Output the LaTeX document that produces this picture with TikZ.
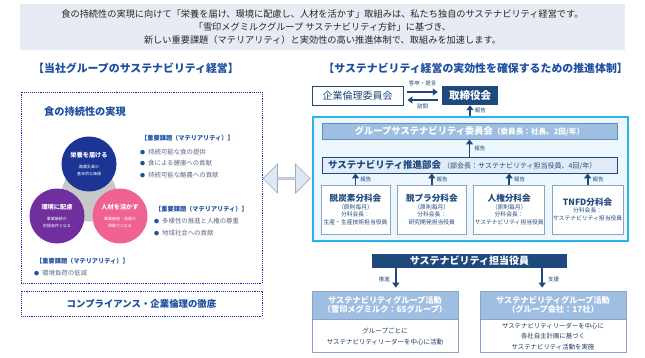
\documentclass[tikz,border=0pt]{standalone}
\usepackage{fontspec}
\setmainfont{Noto Sans CJK JP}
\usepackage{xcolor}
\usepackage{tikz}
\usetikzlibrary{shapes.arrows, arrows.meta, positioning, calc}
\definecolor{headblue}{RGB}{30, 80, 160}
\definecolor{navy}{RGB}{31, 73, 125}
\definecolor{bannerbg}{RGB}{231, 236, 244}
\definecolor{dotblue}{RGB}{20, 40, 170}
\definecolor{circblue}{RGB}{28, 52, 148}
\definecolor{circpurple}{RGB}{112, 46, 158}
\definecolor{circpink}{RGB}{240, 98, 148}
\definecolor{circgray}{RGB}{200, 200, 200}
\definecolor{itemgray}{RGB}{90, 105, 130}
\definecolor{framecyan}{RGB}{40, 180, 235}
\definecolor{framebg}{RGB}{236, 248, 254}
\definecolor{midblue}{RGB}{158, 190, 226}
\definecolor{midborder}{RGB}{100, 140, 195}
\definecolor{paleblue}{RGB}{226, 236, 248}
\definecolor{boxborder}{RGB}{140, 162, 198}
\definecolor{arrowfill}{RGB}{222, 232, 243}
\definecolor{arrowedge}{RGB}{160, 170, 190}
\newcommand{\matbullet}{{\color{headblue}\fontsize{5}{5}\selectfont ●}\hspace{3pt}}
\newcommand{\circsub}{\mdseries\fontsize{4}{7}\selectfont}
\tikzset{
  font=\fontsize{7}{9}\selectfont,
  bannerbox/.style={
    rectangle, fill=bannerbg, minimum width=605, minimum height=46,
    align=center, text=black!85, font=\fontsize{9.2}{13}\selectfont
  },
  sectiontitle/.style={
    inner sep=0pt, text=headblue, font=\bfseries\fontsize{10.9}{12}\selectfont
  },
  dotbox/.style={
    rectangle, draw=dotblue, densely dotted, line width=0.9pt
  },
  valuecircle/.style={
    circle, minimum size=55, inner sep=0pt, align=center, text=white,
    font=\bfseries\fontsize{6.2}{7}\selectfont
  },
  matheading/.style={
    anchor=west, inner sep=0pt, text=headblue, font=\bfseries\fontsize{6.2}{7}\selectfont
  },
  matitem/.style={
    anchor=west, inner sep=0pt, text=itemgray, font=\fontsize{6.4}{7}\selectfont
  },
  ethicsbox/.style={
    rectangle, draw=navy, fill=white, line width=0.9pt, text=navy,
    font=\fontsize{10}{11}\selectfont
  },
  boardbox/.style={
    rectangle, fill=navy, text=white, font=\bfseries\fontsize{10.5}{11}\selectfont
  },
  promoframe/.style={
    rectangle, draw=framecyan, fill=framebg, line width=1.1pt
  },
  committeebox/.style={
    rectangle, draw=midborder, fill=midblue, line width=0.8pt, text=white,
    font=\bfseries\fontsize{9.3}{10}\selectfont
  },
  councilbox/.style={
    rectangle, draw=navy, fill=paleblue, line width=0.8pt, text=navy,
    align=left, font=\fontsize{7}{8}\selectfont
  },
  subbox/.style={
    rectangle, draw=boxborder, fill=white, line width=0.8pt, text=navy,
    minimum width=69, minimum height=49, inner sep=1pt, align=center,
    font=\fontsize{5.8}{7.6}\selectfont
  },
  officerbox/.style={
    rectangle, fill=navy, text=white, minimum width=195, minimum height=14,
    inner sep=0pt, font=\bfseries\fontsize{10}{11}\selectfont
  },
  acthead/.style={
    rectangle, draw=boxborder, fill=midblue, line width=0.8pt, text=white,
    minimum width=146, minimum height=28, inner sep=0pt, align=center,
    font=\bfseries\fontsize{8.2}{9.5}\selectfont
  },
  actbody/.style={
    rectangle, draw=boxborder, fill=white, line width=0.8pt, text=navy!80!black,
    minimum width=146, minimum height=33, inner sep=0pt, align=center,
    font=\fontsize{6.5}{10.5}\selectfont
  },
  flowline/.style={
    draw=navy, line width=1.8pt, -{Triangle[length=5pt, width=7pt]}
  },
  flowtag/.style={
    inner sep=1pt, text=navy, font=\fontsize{5.5}{6}\selectfont
  }
}

\begin{document}
\begin{tikzpicture}[x=1pt, y=-1pt]
  \useasboundingbox (0,0) rectangle (645,357);

  % Message banner
  \node[bannerbox] (banner) at (322.5,27) {食の持続性の実現に向けて「栄養を届け、環境に配慮し、人材を活かす」取組みは、私たち独自のサステナビリティ経営です。\\「雪印メグミルクグループ サステナビリティ方針」に基づき、\\新しい重要課題（マテリアリティ）と実効性の高い推進体制で、取組みを加速します。};

  % Left: group sustainability management
  \node[sectiontitle, anchor=west] (lefttitle) at (33,68) {【当社グループのサステナビリティ経営】};
  \node[dotbox, minimum width=241, minimum height=191] (foodbox) at (141.5,187.5) {};
  \node[sectiontitle, anchor=west, font=\bfseries\fontsize{10.2}{11}\selectfont] (foodtitle) at (44,112) {食の持続性の実現};

  \node[valuecircle, fill=circgray] (hub) at (89,194) {};
  \node[valuecircle, fill=circblue] (nutrition) at (89,164) {栄養を届ける\\[4pt]\circsub 酪農乳業の\\\circsub 基本的な価値};
  \node[valuecircle, fill=circpurple] (environment) at (57,216) {環境に配慮\\[4pt]\circsub 事業継続の\\\circsub 前提条件となる};
  \node[valuecircle, fill=circpink] (people) at (120,216) {人材を活かす\\[4pt]\circsub 事業継続・発展の\\\circsub 原動力となる};

  % Materiality lists
  \node[matheading] (mat1) at (141,138) {【重要課題（マテリアリティ）】};
  \node[matitem] (mat1a) at (140,152) {\matbullet 持続可能な食の提供};
  \node[matitem] (mat1b) at (140,163.5) {\matbullet 食による健康への貢献};
  \node[matitem] (mat1c) at (140,175) {\matbullet 持続可能な酪農への貢献};

  \node[matheading] (mat2) at (155,209) {【重要課題（マテリアリティ）】};
  \node[matitem] (mat2a) at (154,221) {\matbullet 多様性の推進と人権の尊重};
  \node[matitem] (mat2b) at (154,233) {\matbullet 地域社会への貢献};

  \node[matheading] (mat3) at (36,261) {【重要課題（マテリアリティ）】};
  \node[matitem] (mat3a) at (34,273) {\matbullet 環境負荷の低減};

  \node[dotbox, minimum width=241, minimum height=25, text=headblue,
    font=\bfseries\fontsize{9.4}{10}\selectfont] (compliance) at (141.5,303.5) {コンプライアンス・企業倫理の徹底};

  % Link between both halves
  \node[double arrow, fill=arrowfill, draw=arrowedge, line width=0.7pt,
    minimum height=47, minimum width=29, double arrow head extend=6.5pt,
    inner sep=0pt] (link) at (286.5,178.5) {};

  % Right: promotion structure
  \node[sectiontitle, anchor=east] (righttitle) at (628,68) {【サステナビリティ経営の実効性を確保するための推進体制】};
  \node[ethicsbox, minimum width=91, minimum height=19] (ethics) at (357.5,95.5) {企業倫理委員会};
  \node[boardbox, minimum width=56, minimum height=19] (board) at (470,95.5) {取締役会};
  \draw[flowline, shorten <=4pt, shorten >=4pt] ([yshift=3.5pt]ethics.east) -- ([yshift=3.5pt]ethics.east -| board.west)
    node[midway, above=4pt, flowtag] {答申・提言};
  \draw[flowline, shorten <=4pt, shorten >=4pt] ([yshift=-4.5pt]board.west) -- ([yshift=-4.5pt]board.west -| ethics.east)
    node[midway, below=2pt, flowtag] {諮問};

  \node[promoframe, minimum width=315, minimum height=124] (frame) at (470.5,179) {};
  \draw[flowline] (frame.north -| board.south) -- (board.south) node[midway, right=3pt, flowtag] {報告};

  \node[committeebox, minimum width=295, minimum height=16, inner sep=0pt] (committee) at (469.5,131)
    {グループサステナビリティ委員会\fontsize{7.6}{8}\selectfont（委員長：社長、2回/年）};
  \node[councilbox, text width=283, inner xsep=6pt, inner ysep=0pt, minimum height=16] (council) at (469.5,165)
    {\textbf{\fontsize{9.5}{10}\selectfont サステナビリティ推進部会}\hspace{2pt}（部会長：サステナビリティ担当役員、4回/年）};
  \draw[flowline] (council.north) -- (committee.south) node[midway, right=3pt, flowtag] {報告};

  \node[subbox] (decarb) at (355.5,209.5) {\textbf{\fontsize{8.6}{9}\selectfont 脱炭素分科会}\\（原則毎月）\\分科会長：\\生産・生産技術担当役員};
  \node[subbox, right=6.5pt of decarb] (plastic) {\textbf{\fontsize{8.6}{9}\selectfont 脱プラ分科会}\\（原則毎月）\\分科会長：\\研究開発担当役員};
  \node[subbox, right=6.5pt of plastic] (rights) {\textbf{\fontsize{8.6}{9}\selectfont 人権分科会}\\（原則毎月）\\分科会長：\\サステナビリティ担当役員};
  \node[subbox, right=6.5pt of rights] (tnfd) {\textbf{\fontsize{8.6}{9}\selectfont TNFD分科会}\\分科会長：\\サステナビリティ担当役員};
  \foreach \sub in {decarb, plastic, rights, tnfd}
    \draw[flowline] (\sub.north) -- (\sub.north |- council.south) node[midway, right=3pt, flowtag] {報告};

  % Officer and group activities
  \node[officerbox] (officer) at (469.5,261) {サステナビリティ担当役員};

  \node[acthead] (grouphead) at (385,305) {サステナビリティグループ活動\\（雪印メグミルク：65グループ）};
  \node[actbody, below=0pt of grouphead] (groupbody) {グループごとに\\サステナビリティリーダーを中心に活動};
  \node[acthead] (affhead) at (553,305) {サステナビリティグループ活動\\（グループ会社：17社）};
  \node[actbody, below=0pt of affhead, font=\fontsize{6.4}{10.5}\selectfont] (affbody) {サステナビリティリーダーを中心に\\各社自主計画に基づく\\サステナビリティ活動を実施};

  \draw[flowline, shorten >=3pt] ([xshift=24pt]officer.south west) -- ([xshift=24pt]officer.south west |- grouphead.north)
    node[midway, left=4pt, flowtag] {推進};
  \draw[flowline, shorten >=3pt] ([xshift=-25pt]officer.south east) -- ([xshift=-25pt]officer.south east |- affhead.north)
    node[midway, right=4pt, flowtag] {支援};
\end{tikzpicture}
\end{document}
